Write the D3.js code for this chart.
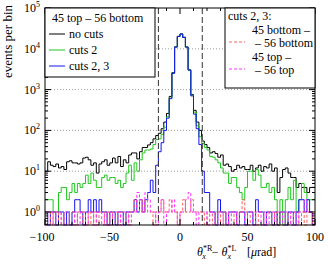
<!DOCTYPE html>
<html>
<head>
<meta charset="utf-8">
<script src="https://cdn.jsdelivr.net/npm/d3@7"></script>
<style>
  body { margin: 0; background: #fff; }
  text { font-family: 'Liberation Serif', 'DejaVu Serif', serif; font-size: 12px; }
</style>
</head>
<body>
<svg class="chart" width="328" height="266"></svg>
<script>
/****************************************************************
    Data: 100 bins of 2 urad from -100 to 100
/****************************************************************/
const binEdges = d3.range(-100, 101, 2)

const noCuts = [
  10, 17, 14, 13, 15, 12, 13, 11, 17, 18, 16, 16, 15, 16, 21, 22, 19, 14, 16, 9,
  15, 17, 19, 14, 16, 21, 16, 23, 13, 19, 16, 25, 28, 28, 20, 30, 38, 38, 44, 50,
  62, 75,
  85, 110, 160, 260, 680, 2600, 11200, 20200, 23200, 19200, 11100, 3050, 760, 310, 160, 100,
  55, 45, 38, 28, 30, 27, 22, 25, 14, 15, 13, 10, 11, 14, 12, 13, 11, 11, 14, 10,
  12, 14, 10, 13, 12, 15, 10, 12, 3, 7, 11, 12, 9, 7, 7, 4, 5, 4, 4, 3,
  4, 4
]
const cuts2 = [
  2, 2, 2, 1, 1, 3, 4, 4, 2, 3, 5, 3, 5, 4, 5, 8, 5, 9, 6, 4,
  4, 7, 8, 6, 7, 7, 5, 6, 4, 5, 9, 14, 6, 16, 10, 19, 28, 33, 33, 35,
  45, 60,
  62, 80, 120, 215, 620, 2520, 11100, 20100, 23100, 19100, 11050, 3010, 730, 280, 130, 70,
  48, 38, 33, 23, 22, 19, 16, 12, 9, 9, 5, 7, 7, 4, 3, 2, 4, 10, 10, 6,
  11, 8, 4, 4, 5, 3, 4, 2, 0, 2, 0, 2, 4, 2, 6, 1, 2, 5, 3, 2,
  2, 2
]
const cuts23 = [
  1, 0, 1, 1, 0, 1, 1, 0, 1, 0, 1, 2, 2, 1, 0, 1, 2, 1, 2, 1,
  2, 1, 1, 0, 1, 1, 0, 1, 1, 0, 1, 1, 1, 2, 1, 2, 1, 2, 3, 6,
  3, 14,
  30, 50, 100, 200, 600, 2500, 11000, 20000, 23000, 19000, 11000, 3000, 700, 250, 110, 45,
  10, 3, 3, 1, 1, 0, 2, 1, 1, 0, 1, 1, 1, 0, 1, 1, 0, 1, 1, 0,
  2, 1, 1, 0, 1, 1, 0, 1, 0, 1, 1, 0, 1, 1, 0, 1, 2, 2, 1, 2,
  1, 0
]
const bottomBottom = [
  1, 1, 0, 1, 1, 0, 1, 0, 0, 1, 1, 0, 1, 1, 0, 0, 1, 0, 1, 0,
  1, 1, 0, 1, 0, 1, 1, 0, 1, 1, 0, 1, 1, 2, 1, 2, 1, 2, 1, 1,
  0, 1,
  1, 2, 1, 1, 2, 1, 1, 0, 1, 2, 1, 1, 2, 1, 1, 1,
  1, 0, 1, 1, 0, 1, 1, 0, 1, 0, 1, 1, 0, 1, 1, 2, 1, 0, 1, 1,
  0, 1, 1, 0, 1, 1, 0, 1, 0, 1, 1, 0, 1, 0, 1, 1, 0, 1, 0, 1,
  1, 0
]
const topTop = [
  0, 1, 1, 0, 1, 1, 0, 1, 1, 0, 0, 1, 0, 1, 1, 0, 1, 1, 0, 1,
  1, 0, 1, 0, 1, 0, 1, 1, 0, 1, 1, 0, 1, 1, 3, 2, 1, 3, 2, 1,
  1, 0,
  1, 2, 0, 1, 1, 2, 1, 0, 1, 1, 2, 3, 1, 1, 0, 1,
  1, 1, 0, 1, 1, 0, 1, 1, 0, 1, 0, 1, 1, 0, 1, 1, 0, 1, 1, 0,
  1, 1, 0, 1, 0, 1, 1, 0, 1, 1, 0, 1, 1, 0, 1, 0, 1, 1, 2, 1,
  1, 0
]
const cutLines = [-16, 16.5]
const xTicks = [-100, -50, 0, 50, 100]
const xTickLabels = ['\u2212100', '\u221250', '0', '50', '100']
const yDecades = [0, 1, 2, 3, 4, 5]

/****************************************************************
    Layout
/****************************************************************/
const plot = { left: 45, right: 315, top: 8, bottom: 225 }

const x = d3.scaleLinear().domain([-100, 100]).range([plot.left, plot.right])
const y = d3.scaleLog().domain([0.48, 1e5]).range([plot.bottom, plot.top]).clamp(true)

const svg = d3.select('.chart')

// grid at every decade
svg.append('g')
  .selectAll('line')
  .data(yDecades.slice(0, 5))
  .join('line')
  .attr('x1', plot.left)
  .attr('x2', plot.right)
  .attr('y1', d => y(Math.pow(10, d)))
  .attr('y2', d => y(Math.pow(10, d)))
  .attr('stroke', '#888')
  .attr('stroke-width', 0.8)
  .attr('stroke-dasharray', '1,2')

/****************************************************************
    Histograms drawn as steps
/****************************************************************/
function stepHist(values, color, dash) {
  let pts = values.map((v, i) => [binEdges[i], v])
  pts.push([binEdges[values.length], values[values.length - 1]])
  let line = d3.line()
    .x(d => x(d[0]))
    .y(d => (d[1] > 0 ? y(d[1]) : plot.bottom))
    .curve(d3.curveStepAfter)
  svg.append('path')
    .attr('d', line(pts))
    .attr('fill', 'none')
    .attr('stroke', color)
    .attr('stroke-width', 1)
    .attr('stroke-dasharray', dash || null)
}

stepHist(noCuts, '#000')
stepHist(cuts2, '#1ec81e')
stepHist(cuts23, '#1414f0')
stepHist(bottomBottom, '#ff6060', '3,2')
stepHist(topTop, '#ff30ff', '3,2')

// cut lines
svg.append('g')
  .selectAll('line')
  .data(cutLines)
  .join('line')
  .attr('x1', d => x(d))
  .attr('x2', d => x(d))
  .attr('y1', plot.top)
  .attr('y2', plot.bottom)
  .attr('stroke', '#333')
  .attr('stroke-width', 1)
  .attr('stroke-dasharray', '6,3')

/****************************************************************
    Frame and ticks (inside, on all four sides)
/****************************************************************/
svg.append('rect')
  .attr('x', plot.left).attr('y', plot.top)
  .attr('width', plot.right - plot.left).attr('height', plot.bottom - plot.top)
  .attr('fill', 'none').attr('stroke', '#000').attr('stroke-width', 1)

let yMinor = []
for (let e = -1; e < 5; e++) {
  for (let m = 1; m < 10; m++) {
    let v = m * Math.pow(10, e)
    if (v >= 0.48 && v <= 1e5) yMinor.push({ v: v, major: m == 1 })
  }
}
yMinor.push({ v: 1e5, major: true })

let ticks = svg.append('g').attr('stroke', '#000').attr('stroke-width', 1)
yMinor.forEach(t => {
  let len = t.major ? 6 : 3
  ticks.append('line')
    .attr('x1', plot.left).attr('x2', plot.left + len)
    .attr('y1', y(t.v)).attr('y2', y(t.v))
  ticks.append('line')
    .attr('x1', plot.right).attr('x2', plot.right - len)
    .attr('y1', y(t.v)).attr('y2', y(t.v))
})
d3.range(-100, 101, 10).forEach(v => {
  let len = v % 50 == 0 ? 6 : 3
  ticks.append('line')
    .attr('x1', x(v)).attr('x2', x(v))
    .attr('y1', plot.bottom).attr('y2', plot.bottom - len)
  ticks.append('line')
    .attr('x1', x(v)).attr('x2', x(v))
    .attr('y1', plot.top).attr('y2', plot.top + len)
})

// y tick labels 10^n
yDecades.forEach(d => {
  let t = svg.append('text')
    .attr('x', plot.left - 5)
    .attr('y', y(Math.pow(10, d)) + 4)
    .attr('text-anchor', 'end')
  t.append('tspan').text('10')
  t.append('tspan').attr('dy', -5).style('font-size', '8px').text(d)
})

// x tick labels
svg.append('g')
  .selectAll('text')
  .data(xTicks)
  .join('text')
  .attr('x', (d, i) => x(d) - (i < 2 ? 3 : 0))
  .attr('y', 241)
  .attr('text-anchor', 'middle')
  .text((d, i) => xTickLabels[i])

// axis titles
svg.append('text')
  .attr('transform', 'translate(12,5) rotate(-90)')
  .attr('text-anchor', 'end')
  .style('font-size', '13px')
  .text('events per bin')

let xt = svg.append('text').attr('x', 197).attr('y', 256)
xt.append('tspan').style('font-style', 'italic').text('\u03b8')
xt.append('tspan').attr('dy', -5).style('font-size', '8px').text('*R')
xt.append('tspan').attr('dx', -10).attr('dy', 8).style('font-size', '8px').style('font-style', 'italic').text('x')
xt.append('tspan').attr('dx', 6).attr('dy', -3).text('\u2212 ')
xt.append('tspan').style('font-style', 'italic').text('\u03b8')
xt.append('tspan').attr('dy', -5).style('font-size', '8px').text('*L')
xt.append('tspan').attr('dx', -9).attr('dy', 8).style('font-size', '8px').style('font-style', 'italic').text('x')
xt.append('tspan').attr('dx', 16).attr('dy', -3).text('[')
xt.append('tspan').style('font-style', 'italic').text('\u03bc')
xt.append('tspan').text('rad]')

/****************************************************************
    Legends
/****************************************************************/
function legendBox(x0, y0, w, h) {
  svg.append('rect')
    .attr('x', x0).attr('y', y0).attr('width', w).attr('height', h)
    .attr('fill', '#fff').attr('stroke', '#000').attr('stroke-width', 1)
}
function legendLine(x0, yy, color, dash) {
  svg.append('line')
    .attr('x1', x0).attr('x2', x0 + 16).attr('y1', yy).attr('y2', yy)
    .attr('stroke', color).attr('stroke-width', 1)
    .attr('stroke-dasharray', dash || null)
}
function legendText(x0, yy, s) {
  svg.append('text').attr('x', x0).attr('y', yy).text(s)
}

legendBox(plot.left, plot.top, 110, 69)
legendText(52, 22, '45 top \u2013 56 bottom')
legendLine(49, 34, '#000')
legendText(69, 38, 'no cuts')
legendLine(49, 50, '#1ec81e')
legendText(69, 54, 'cuts 2')
legendLine(49, 66, '#1414f0')
legendText(69, 70, 'cuts 2, 3')

legendBox(225, plot.top, plot.right - 225, 80)
legendText(228, 20, 'cuts 2, 3:')
legendText(252, 34, '45 bottom \u2013')
legendLine(229, 42, '#ff6060', '3,2')
legendText(255, 47, '\u2013 56 bottom')
legendText(252, 61, '45 top \u2013')
legendLine(229, 69, '#ff30ff', '3,2')
legendText(255, 74, '\u2013 56 top')
</script>
</body>
</html>
